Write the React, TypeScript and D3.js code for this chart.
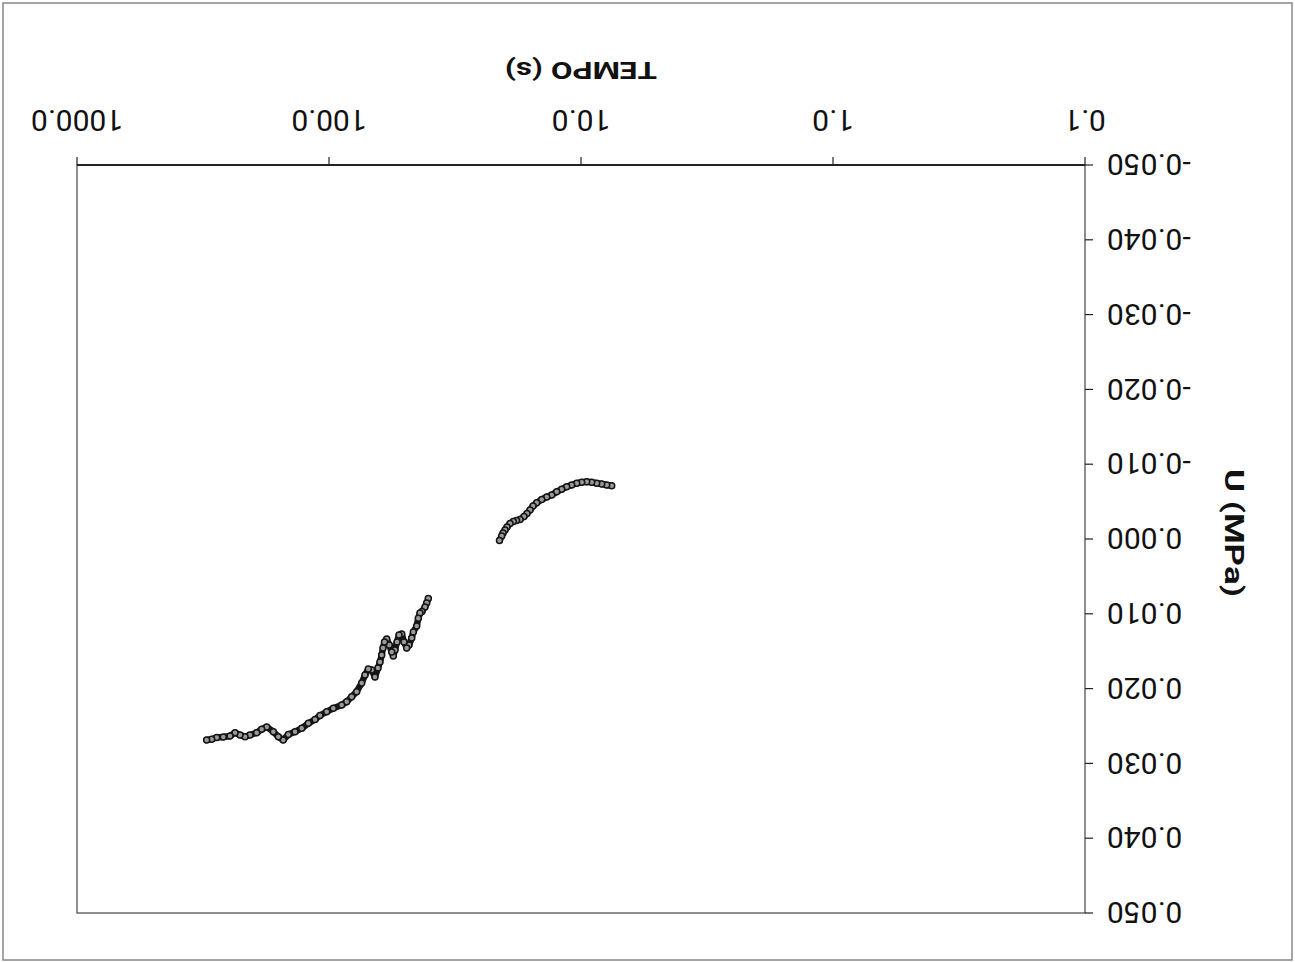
import React from 'react';
import * as d3 from 'd3';

const W = 1295;
const H = 962;
// the scanned page is upside down: draw the chart normally, then turn it 180deg
const M = { left: 210, right: 77, top: 49, bottom: 165 };

// first run (TEMPO in s, U in MPa)
const timeA = [7.554, 7.907, 8.277, 8.664, 9.069, 9.493, 9.936, 10.40, 10.89, 11.40, 11.93, 12.49, 13.07, 13.68, 14.32, 14.99, 15.50, 15.93, 16.38, 16.83, 17.46, 18.03, 18.56, 19.12, 19.66, 20.02, 20.39, 20.64, 21.06];
const uA = [-0.00713, -0.00722, -0.00735, -0.00745, -0.00758, -0.00766, -0.00758, -0.00745, -0.00722, -0.00699, -0.00664, -0.00632, -0.00588, -0.00561, -0.00528, -0.00485, -0.00441, -0.00388, -0.00341, -0.00301, -0.00261, -0.00247, -0.00234, -0.00207, -0.0016, -0.0012, -0.0008, -0.0004, 0.0002];

// second run
const timeB = [40.36, 40.96, 41.59, 42.76, 43.55, 44.22, 44.87, 46.28, 46.96, 48.14, 49.17, 50.40, 51.46, 52.75, 53.73, 54.72, 55.57, 56.39, 57.64, 59.02, 60.23, 61.06, 61.79, 62.76, 63.92, 65.70, 67.71, 69.83, 71.97, 74.18, 77.65, 81.28, 85.08, 89.06, 96.14, 102.1, 108.6, 113.6, 120.8, 128.3, 136.4, 145.0, 151.9, 158.9, 166.3, 176.7, 185.0, 193.6, 205.9, 215.4, 225.5, 236.0, 247.1, 262.7, 279.0, 292.1, 305.8];
const uB = [0.00796, 0.00856, 0.00909, 0.00969, 0.00989, 0.0106, 0.01163, 0.01243, 0.01324, 0.01417, 0.01457, 0.01377, 0.0127, 0.01283, 0.01377, 0.01484, 0.01564, 0.01511, 0.01417, 0.01337, 0.01377, 0.01457, 0.01551, 0.01644, 0.01725, 0.01845, 0.01751, 0.01738, 0.01818, 0.01925, 0.02041, 0.02108, 0.02175, 0.02219, 0.02263, 0.02309, 0.0236, 0.02413, 0.02464, 0.02531, 0.02576, 0.02614, 0.02687, 0.02643, 0.02576, 0.02513, 0.02544, 0.0259, 0.0262, 0.02643, 0.0262, 0.0259, 0.02634, 0.02647, 0.02654, 0.02678, 0.02687];

const xTicks = [0.1, 1, 10, 100, 1000];
const yTicks = [-0.05, -0.04, -0.03, -0.02, -0.01, 0, 0.01, 0.02, 0.03, 0.04, 0.05];

const FONT = 'Roboto, "Liberation Sans", Arimo, sans-serif';

export default function App() {
  const x = d3.scaleLog().domain([0.1, 1000]).range([M.left, W - M.right]);
  const y = d3.scaleLinear().domain([-0.05, 0.05]).range([H - M.bottom, M.top]);

  const runs = [
    timeA.map((t, i) => [t, uA[i]] as [number, number]),
    timeB.map((t, i) => [t, uB[i]] as [number, number]),
  ];

  const line = d3
    .line<[number, number]>()
    .x((d) => x(d[0]))
    .y((d) => y(d[1]));

  const fmtY = (v: number) => (Math.abs(v) < 1e-9 ? '0.000' : v.toFixed(3));
  const x0 = M.left;
  const x1 = W - M.right;
  const y0 = H - M.bottom;
  const y1 = M.top;

  return (
    <svg width={W} height={H} style={{ position: 'absolute', left: 0, top: 0, background: '#fff' }}>
      <g transform={`rotate(180 ${W / 2} ${H / 2})`} fill="#111">
        <rect x={3} y={2} width={W - 6} height={H - 5} fill="none" stroke="#888" strokeWidth={1.5} />

        {/* plot frame */}
        <rect x={x0} y={y1} width={x1 - x0} height={y0 - y1} fill="none" stroke="#444" strokeWidth={1.2} />
        <line x1={x0} x2={x1} y1={y0} y2={y0} stroke="#222" strokeWidth={2} />

        {xTicks.map((t) => (
          <g key={t}>
            <line x1={x(t)} x2={x(t)} y1={y0} y2={y0 + 8} stroke="#222" strokeWidth={1.2} />
            <text x={x(t)} y={y0 + 55} textAnchor="middle" fontSize={30} fontFamily={FONT}>
              {t.toFixed(1)}
            </text>
          </g>
        ))}

        {yTicks.map((v) => (
          <g key={v}>
            <line x1={x0 - 8} x2={x0} y1={y(v)} y2={y(v)} stroke="#222" strokeWidth={1.2} />
            <text x={x0 - 22} y={y(v)} dy="0.36em" textAnchor="end" fontSize={30} fontFamily={FONT}>
              {fmtY(v)}
            </text>
          </g>
        ))}

        <text
          x={(x0 + x1) / 2}
          y={900}
          textAnchor="middle"
          fontSize={24}
          fontWeight="bold"
          fontFamily={FONT}
          textLength={152}
          lengthAdjust="spacingAndGlyphs"
        >
          TEMPO (s)
        </text>
        <text
          transform={`translate(70, ${(y0 + y1) / 2 + 6}) rotate(-90)`}
          textAnchor="middle"
          fontSize={26}
          fontWeight="bold"
          fontFamily={FONT}
          textLength={128}
          lengthAdjust="spacingAndGlyphs"
        >
          U (MPa)
        </text>

        {runs.map((run, k) => (
          <g key={k}>
            <path d={line(run) || ''} fill="none" stroke="#151515" strokeWidth={6.5} strokeLinejoin="round" strokeLinecap="round" />
            {run.map((d, i) => (
              <circle key={i} cx={x(d[0])} cy={y(d[1])} r={3} fill="#9a9a9a" stroke="#151515" strokeWidth={1.5} />
            ))}
          </g>
        ))}
      </g>
    </svg>
  );
}
